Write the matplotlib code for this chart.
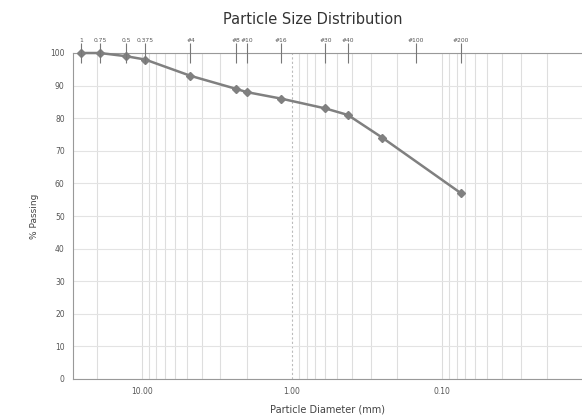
import numpy as np
import matplotlib
matplotlib.use("Agg")
import matplotlib.pyplot as plt
from matplotlib.ticker import FixedLocator, NullFormatter, LogLocator

# sieve data (diameter in mm, % passing)
sizes = [25.4, 19.05, 12.7, 9.525, 4.75, 2.36, 2.0, 1.18, 0.6, 0.425, 0.25, 0.075]
passing = [100, 100, 99, 98, 93, 89, 88, 86, 83, 81, 74, 57]

# sieve names shown along the top
sieve_pos = [25.4, 19.05, 12.7, 9.525, 4.75, 2.36, 2.0, 1.18, 0.6, 0.425, 0.15, 0.075]
sieve_names = ["1", "0.75", "0.5", "0.375", "#4", "#8", "#10", "#16", "#30", "#40", "#100", "#200"]

fig = plt.figure(figsize=(5.82, 4.2), dpi=100)
ax = fig.add_axes([73 / 582, 41 / 420, (582 - 73) / 582, 326 / 420])

ax.set_xscale("log")
ax.set_xlim(28.8, 0.0117)
ax.set_ylim(0, 100)

# grid
ax.xaxis.set_major_locator(FixedLocator([10, 1, 0.1, 0.01]))
ax.xaxis.set_minor_locator(LogLocator(base=10, subs=np.arange(2, 10)))
ax.xaxis.set_minor_formatter(NullFormatter())
ax.set_xticklabels(["10.00", "1.00", "0.10", "0.01"])
ax.set_yticks(np.arange(0, 101, 10))
ax.grid(True, which="major", axis="y", color="#e3e3e3", lw=0.8)
ax.grid(True, which="minor", axis="x", color="#dedede", lw=0.8)
for v in [10, 0.1, 0.01]:
    ax.axvline(v, color="#dcdcdc", lw=0.8, zorder=0)
ax.axvline(1, color="#bbbbbb", lw=0.8, ls=(0, (2, 2)), zorder=0)

ax.tick_params(axis="both", which="both", length=0, labelsize=5.5,
               labelcolor="#555555", pad=6)

# the 0.01 label sits just past the right edge, only partly visible
ax.annotate("0.01", xy=(0.01, 0), xycoords=("data", "data"),
            xytext=(0, -8.5), textcoords="offset points", ha="center",
            va="top", fontsize=5.5, color="#555555", annotation_clip=False)

ax.spines["right"].set_visible(False)
for side in ["left", "bottom", "top"]:
    ax.spines[side].set_color("#999999")
    ax.spines[side].set_linewidth(0.8)

ax.plot(sizes, passing, color="#808080", lw=1.8, marker="D", ms=4,
        markerfacecolor="#808080", markeredgecolor="#808080", zorder=3,
        clip_on=False)

# top axis with sieve names
top = ax.twiny()
top.set_xscale("log")
top.set_xlim(ax.get_xlim())
top.xaxis.set_major_locator(FixedLocator(sieve_pos))
top.xaxis.set_minor_locator(FixedLocator([]))
top.set_xticklabels(sieve_names)
top.tick_params(axis="x", direction="inout", length=14, width=0.8,
                color="#777777", labelsize=4.3, labelcolor="#555555", pad=0)
for side in ["left", "right", "bottom", "top"]:
    top.spines[side].set_visible(False)

ax.set_xlabel("Particle Diameter (mm)", fontsize=7, color="#444444", labelpad=6)
ax.set_ylabel("% Passing", fontsize=6.5, color="#444444", labelpad=8)
fig.text(313 / 582, 1 - 20 / 420, "Particle Size Distribution", ha="center",
         va="center", fontsize=10.5, color="#333333")

fig.savefig("out.png", dpi=100)
